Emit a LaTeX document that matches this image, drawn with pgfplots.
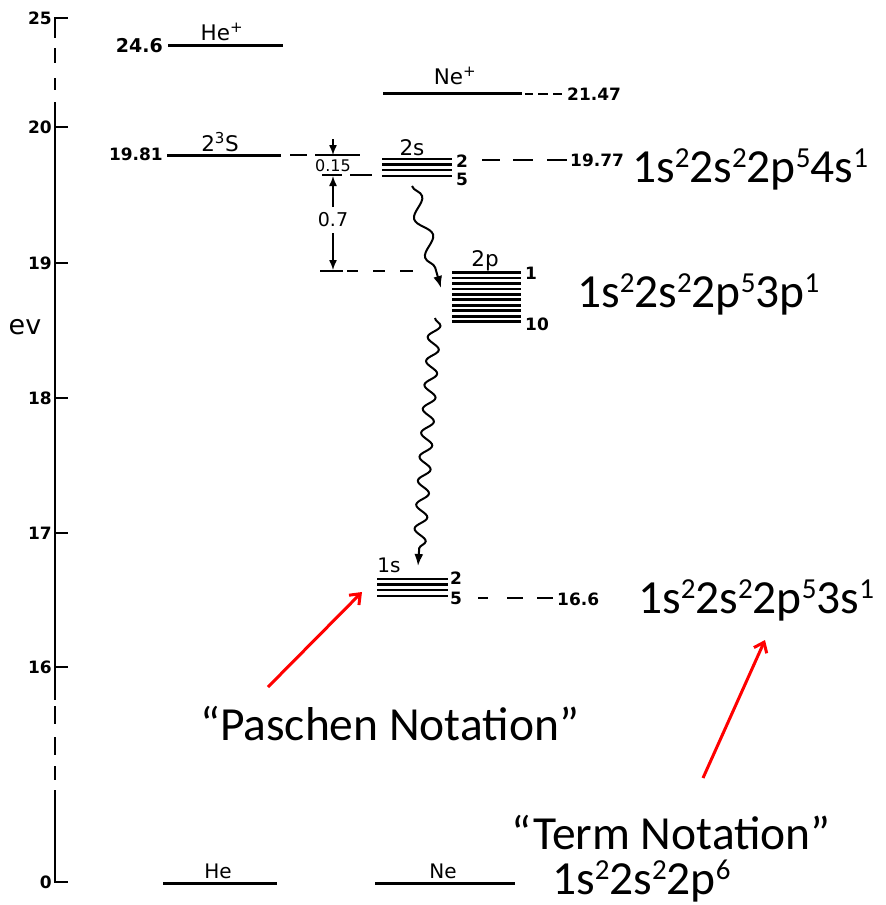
\documentclass[border=0pt]{standalone}
\usepackage{pgfplots}
\pgfplotsset{compat=1.18}
\usepackage{fontspec}
\setmainfont{DejaVu Sans}
\newfontfamily\calfont{Carlito}
\usetikzlibrary{arrows.meta,decorations.pathmorphing}

% big slide text (Calibri metrics)
\newcommand{\bigtxt}{\calfont\fontsize{47.5}{50}\selectfont}
\newcommand{\sups}[1]{\raisebox{15pt}{\fontsize{29}{29}\selectfont #1}}
\newcommand{\lab}{\fontsize{21.5}{22}\selectfont}
\newcommand{\num}{\fontsize{17}{17}\selectfont\bfseries}

\begin{document}
\begin{tikzpicture}
\begin{axis}[
    scale only axis, width=831pt, height=905pt,
    xmin=55, xmax=886, ymin=0, ymax=905, y dir=reverse,
    axis x line=none, axis y line*=left,
    y axis line style={draw=none},
    ytick={18,127,263,398,533,667,882},
    yticklabels={25,20,19,18,17,16,0},
    tick align=inside, major tick length=13pt,
    tick style={black, line width=1.8pt},
    yticklabel style={font=\fontsize{17}{17}\selectfont\bfseries, inner sep=3pt},
    clip=false, unbounded coords=jump,
]
\coordinate (bl) at (axis cs:0,905);
\coordinate (tr) at (axis cs:886,0);

% broken energy axis
\addplot[black, line width=2pt] coordinates {
  (55,17) (55,38) (55,nan)
  (55,48) (55,63) (55,nan)
  (55,78) (55,90) (55,nan)
  (55,102) (55,700) (55,nan)
  (55,706) (55,724) (55,nan)
  (55,737) (55,755) (55,nan)
  (55,766) (55,780) (55,nan)
  (55,790) (55,883)};
\node[font=\fontsize{27}{27}\selectfont] at (axis cs:25,327) {ev};

% He levels
\addplot[black, line width=3pt] coordinates {(168,45) (283,45)};
\addplot[black, line width=3pt] coordinates {(167,155) (281,155)};
\addplot[black, line width=3pt] coordinates {(163,883) (277,883)};
% Ne levels
\addplot[black, line width=3pt] coordinates {(383,93) (522,93)};
\addplot[black, line width=3pt] coordinates {(375,883) (515,883)};
% Ne 2s (4 sublevels)
\addplot[black, line width=2.8pt] coordinates {
  (382,159) (452,159) (382,nan)
  (382,164.5) (452,164.5) (382,nan)
  (382,170) (452,170) (382,nan)
  (382,176) (452,176)};
% Ne 2p (10 sublevels)
\addplot[black, line width=2.8pt] coordinates {
  (452,272.5) (521,272.5) (452,nan)
  (452,278) (521,278) (452,nan)
  (452,283.4) (521,283.4) (452,nan)
  (452,288.9) (521,288.9) (452,nan)
  (452,294.3) (521,294.3) (452,nan)
  (452,299.7) (521,299.7) (452,nan)
  (452,305.2) (521,305.2) (452,nan)
  (452,310.6) (521,310.6) (452,nan)
  (452,316.1) (521,316.1) (452,nan)
  (452,321.5) (521,321.5)};
% Ne 1s (4 sublevels)
\addplot[black, line width=2.8pt] coordinates {
  (377,579) (448,579) (377,nan)
  (377,584.5) (448,584.5) (377,nan)
  (377,590) (448,590) (377,nan)
  (377,596) (448,596)};

% dashed leaders
\addplot[black, line width=1.5pt] coordinates {
  (525,94) (533,94) (525,nan) (538,94) (548,94) (538,nan) (553,94) (562,94) (553,nan)
  (482,160) (500,160) (482,nan) (513,160) (533,160) (513,nan) (547,160) (567,160) (547,nan)
  (290,155) (307,155) (290,nan) (315,155) (360,155) (315,nan)
  (322,175) (342,175) (322,nan) (350,175) (372,175) (350,nan)
  (320,271) (343,271) (320,nan) (347,271) (358,271) (347,nan)
  (373,271) (385,271) (373,nan) (400,271) (413,271) (400,nan)
  (478,598) (488,598) (478,nan) (507,598) (523,598) (507,nan) (537,598) (553,598)};

% energy gap arrows
\draw[black, line width=1.4pt, -{Latex[length=10pt,width=8pt]}] (axis cs:333,139) -- (axis cs:333,155);
\draw[black, line width=1.4pt, -{Latex[length=10pt,width=8pt]}] (axis cs:333,207) -- (axis cs:333,176);
\draw[black, line width=1.4pt, -{Latex[length=10pt,width=8pt]}] (axis cs:333,233) -- (axis cs:333,270);
\node[font=\fontsize{16}{16}\selectfont, anchor=base] at (axis cs:333,171) {0.15};
\node[font=\fontsize{19}{19}\selectfont, anchor=base] at (axis cs:333,226) {0.7};

% radiative cascades
\draw[black, line width=2pt, decorate,
  decoration={snake, amplitude=7pt, segment length=40pt, post length=12pt},
  -{Latex[length=12pt,width=9pt]}] (axis cs:412,186) -- (axis cs:441,288);
\draw[black, line width=2pt, decorate,
  decoration={snake, amplitude=6pt, segment length=24pt, post length=12pt},
  -{Latex[length=12pt,width=9pt]}] (axis cs:435,318) -- (axis cs:418,566);

% level labels
\node[font=\lab, anchor=base] at (axis cs:222,40) {He\textsuperscript{+}};
\node[font=\lab, anchor=base] at (axis cs:220,151) {2\textsuperscript{3}S};
\node[font=\lab, anchor=base] at (axis cs:455,84) {Ne\textsuperscript{+}};
\node[font=\lab, anchor=base] at (axis cs:412,155) {2s};
\node[font=\lab, anchor=base] at (axis cs:485,266) {2p};
\node[font=\fontsize{20}{20}\selectfont, anchor=base] at (axis cs:389,572) {1s};
\node[font=\fontsize{20}{20}\selectfont, anchor=base] at (axis cs:218,878) {He};
\node[font=\fontsize{20}{20}\selectfont, anchor=base] at (axis cs:443,878) {Ne};
\node[font=\num, anchor=base west, inner sep=0pt] at (axis cs:456,167) {2};
\node[font=\num, anchor=base west, inner sep=0pt] at (axis cs:456,185) {5};
\node[font=\num, anchor=base west, inner sep=0pt] at (axis cs:525,279) {1};
\node[font=\num, anchor=base west, inner sep=0pt] at (axis cs:525,330) {10};
\node[font=\num, anchor=base west, inner sep=0pt] at (axis cs:450,584) {2};
\node[font=\num, anchor=base west, inner sep=0pt] at (axis cs:450,604) {5};
\node[font=\fontsize{19}{19}\selectfont\bfseries, anchor=base east, inner sep=0pt] at (axis cs:163,52) {24.6};
\node[font=\num, anchor=base east, inner sep=0pt] at (axis cs:163,160) {19.81};
\node[font=\num, anchor=base west, inner sep=0pt] at (axis cs:567,100) {21.47};
\node[font=\num, anchor=base west, inner sep=0pt] at (axis cs:570,166) {19.77};
\node[font=\num, anchor=base west, inner sep=0pt] at (axis cs:557,605) {16.6};

% configurations
\node[font=\bigtxt, anchor=base west, inner sep=0pt] at (axis cs:632,182)
  {1s\sups{2}2s\sups{2}2p\sups{5}4s\sups{1}};
\node[font=\bigtxt, anchor=base west, inner sep=0pt] at (axis cs:577,307)
  {1s\sups{2}2s\sups{2}2p\sups{5}3p\sups{1}};
\node[font=\bigtxt, anchor=base west, inner sep=0pt] at (axis cs:638,613)
  {1s\sups{2}2s\sups{2}2p\sups{5}3s\sups{1}};
\node[font=\bigtxt, anchor=base west, inner sep=0pt] at (axis cs:552,894)
  {1s\sups{2}2s\sups{2}2p\sups{6}};
\node[font=\bigtxt, anchor=base west, inner sep=0pt] at (axis cs:200,740)
  {“Paschen Notation”};
\node[font=\bigtxt, anchor=base west, inner sep=0pt] at (axis cs:511,849)
  {“Term Notation”};

% pointers
\draw[red, line width=3pt, -{Straight Barb[length=9pt,width=14pt]}] (axis cs:268,687) -- (axis cs:362,592);
\draw[red, line width=3pt, -{Straight Barb[length=9pt,width=14pt]}] (axis cs:703,778) -- (axis cs:765,640);
\end{axis}
\pgfresetboundingbox
\useasboundingbox (bl) rectangle (tr);
\end{tikzpicture}
\end{document}
